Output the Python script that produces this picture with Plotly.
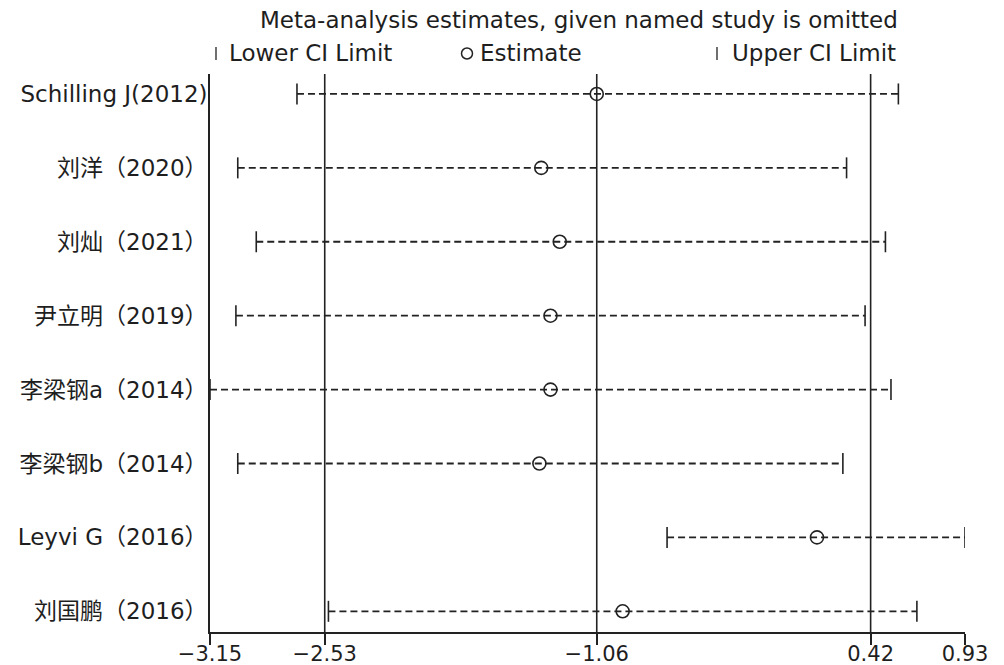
import plotly.graph_objects as go

# Leave-one-out meta-analysis: estimate and 95% CI when each study is omitted
studies = ["Schilling J(2012)", "刘洋（2020）", "刘灿（2021）", "尹立明（2019）",
           "李梁钢a（2014）", "李梁钢b（2014）", "Leyvi G（2016）", "刘国鹏（2016）"]
estimate = [-1.06, -1.36, -1.26, -1.31, -1.31, -1.37, 0.13, -0.92]
lower = [-2.68, -3.00, -2.90, -3.01, -3.15, -3.00, -0.68, -2.51]
upper = [0.57, 0.29, 0.50, 0.39, 0.53, 0.27, 0.93, 0.67]

# Overall pooled result (lower CI, estimate, upper CI)
overall = [-2.53, -1.06, 0.42]
x_ticks = [-3.15, -2.53, -1.06, 0.42, 0.93]
x_ticktext = ["−3.15", "−2.53", "−1.06", "0.42", "0.93"]

INK = "#222222"
TXT = "#1e1e1e"
FONT = "DejaVu Sans, Noto Sans CJK SC, sans-serif"

rows = list(range(1, len(studies) + 1))

fig = go.Figure()

# dashed CI line for each omitted-study row
for r, lo, hi in zip(rows, lower, upper):
    fig.add_trace(go.Scatter(
        x=[lo, hi], y=[r, r], mode="lines",
        line=dict(color=INK, width=1.8, dash="7px,4px"),
        hoverinfo="skip", showlegend=False))

# CI end caps
fig.add_trace(go.Scatter(
    x=lower, y=rows, mode="markers",
    marker=dict(symbol="line-ns", size=15, line=dict(color=INK, width=1.6)),
    showlegend=False, name="Lower CI Limit"))
fig.add_trace(go.Scatter(
    x=upper, y=rows, mode="markers",
    marker=dict(symbol="line-ns", size=15, line=dict(color=INK, width=1.6)),
    showlegend=False, name="Upper CI Limit"))

# point estimates
fig.add_trace(go.Scatter(
    x=estimate, y=rows, mode="markers",
    marker=dict(symbol="circle-open", size=13, color=INK, line=dict(color=INK, width=1.6)),
    showlegend=False, name="Estimate"))

# reference lines at the pooled estimate and its CI
for v in overall:
    fig.add_shape(type="line", xref="x", yref="paper", x0=v, x1=v, y0=0, y1=1,
                  line=dict(color=INK, width=1.6), layer="below")

# plot area in pixels: left 210, right 965, top 74, bottom 632
L, R, T, B = 210, 965, 74, 632
def px(xp):
    return (xp - L) / (R - L)
def py(yp):
    return (B - yp) / (B - T)

# title and key along the top
fig.add_annotation(text="Meta-analysis estimates, given named study is omitted",
                   xref="paper", yref="paper", x=px(579), y=py(20),
                   xanchor="center", yanchor="middle", showarrow=False,
                   font=dict(family=FONT, size=23, color=TXT))

key = [(216, 227, "Lower CI Limit", "cap"),
       (467, 478, "Estimate", "circle"),
       (717, 730, "Upper CI Limit", "cap")]
for sx, tx, label, kind in key:
    if kind == "cap":
        fig.add_shape(type="line", xref="paper", yref="paper",
                      x0=px(sx), x1=px(sx), y0=py(47), y1=py(60),
                      line=dict(color=INK, width=1.3))
    else:
        fig.add_shape(type="circle", xref="paper", yref="paper",
                      x0=px(sx - 5.5), x1=px(sx + 5.5), y0=py(48), y1=py(59),
                      line=dict(color=INK, width=1.5))
    fig.add_annotation(text=label, xref="paper", yref="paper", x=px(tx), y=py(53.5),
                       xanchor="left", yanchor="middle", showarrow=False,
                       font=dict(family=FONT, size=23, color=TXT))

fig.update_xaxes(range=[-3.15, 0.93], tickvals=x_ticks, ticktext=x_ticktext,
                 showgrid=False, zeroline=False, showline=True, automargin=False,
                 linecolor=INK, linewidth=1.6, ticks="outside", ticklen=11,
                 tickwidth=1.6, tickcolor=INK, ticklabelstandoff=-9,
                 tickfont=dict(family=FONT, size=21, color=TXT))
fig.update_yaxes(range=[8.28, 0.73], tickvals=rows, ticktext=studies,
                 showgrid=False, zeroline=False, showline=True, automargin=False,
                 linecolor=INK, linewidth=1.6, ticks="", ticklabelstandoff=-4,
                 tickfont=dict(family=FONT, size=23, color=TXT))

fig.update_layout(width=1004, height=665, margin=dict(l=L, r=1004 - R, t=T, b=665 - B),
                  plot_bgcolor="white", paper_bgcolor="white", showlegend=False)

fig.write_html("out.html")
